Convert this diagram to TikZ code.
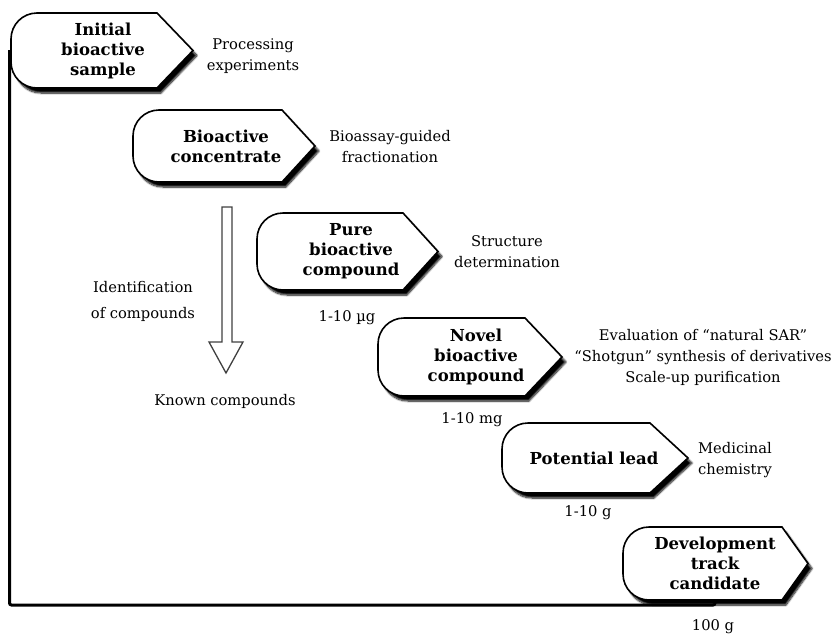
\documentclass[tikz,border=0pt]{standalone}
\usepackage{fontspec}
\setmainfont{DejaVu Serif}
\usetikzlibrary{shadows.blur}
\tikzset{
  stepline/.style={draw=black, line width=1.6pt, fill=white,
    blur shadow={shadow xshift=4pt, shadow yshift=-5pt, shadow blur radius=1.8pt, shadow blur steps=8, shadow opacity=100}},
  steptext/.style={font=\fontsize{16.5}{20}\selectfont\bfseries, align=center, inner sep=0pt},
  lbl/.style={font=\fontsize{14.7}{21}\selectfont, align=center, inner sep=0pt},
  lline/.style={line width=3pt, rounded corners=2pt},
  hollow/.style={draw=black!75, line width=1.3pt, fill=white, line join=miter},
}
% #1 name, #2 left, #3 top, #4 tip x, #5 bottom, #6 indent, #7 text x, #8 text
\newcommand\stepbox[8]{%
  \draw[stepline] (#4-#6,-#3) -- (#2+26,-#3)
    arc[start angle=90,end angle=180,radius=26pt] -- (#2,-#5+26)
    arc[start angle=180,end angle=270,radius=26pt] -- (#4-#6,-#5)
    -- (#4,{-(#3+#5)/2}) -- cycle;
  \node[steptext] (#1) at (#7,{-(#3+#5)/2}) {#8};
  \coordinate (#1-w) at (#2,{-(#3+#5)/2});
  \coordinate (#1-s) at ({(#2+#4)/2},-#5);
}
\begin{document}
\begin{tikzpicture}[x=1pt,y=1pt]
\useasboundingbox (0,0) rectangle (836,-635);
\coordinate (lstart) at (9.5,-50);
\coordinate (lturn) at (9.5,-605);
\coordinate (lend) at (715,-605);
\draw[lline] (lstart) -- (lturn) -- (lend) -- ++(0,6);
\stepbox{b1}{11}{13}{193}{88}{36}{103}{Initial\\bioactive\\sample}
\stepbox{b2}{133}{110}{315}{182}{33}{226}{Bioactive\\concentrate}
\stepbox{b3}{257}{213}{438}{290}{35}{351}{Pure\\bioactive\\compound}
\stepbox{b4}{378}{318}{562}{396}{37}{476}{Novel\\bioactive\\compound}
\stepbox{b5}{502}{423}{688}{493}{38}{594}{Potential lead}
\stepbox{b6}{623}{527}{808}{600}{26}{715}{Development\\track\\candidate}
\node[lbl] (l1) at (253,-56) {Processing\\experiments};
\node[lbl] (l2) at (390,-147) {Bioassay-guided\\fractionation};
\node[lbl] (l3) at (507,-252) {Structure\\determination};
\node[lbl] (l4) at (703,-357) {Evaluation of “natural SAR”\\“Shotgun” synthesis of derivatives\\Scale-up purification};
\node[lbl] (l5) at (735,-460) {Medicinal\\chemistry};
\node[lbl] (m1) at (347,-318) {1-10 µg};
\node[lbl] (m2) at (472,-420) {1-10 mg};
\node[lbl] (m3) at (588,-513) {1-10 g};
\node[lbl] (m4) at (713,-627) {100 g};
\node[lbl, font=\fontsize{14.7}{26}\selectfont] (idc) at (143,-301) {Identification\\of compounds};
\node[lbl] (kc) at (225,-401) {Known compounds};
% hollow arrow
\draw[hollow] (222,-207) -- (232,-207) -- (232,-342) -- (243,-342) -- (226,-373)
  -- (209,-342) -- (222,-342) -- cycle;
\end{tikzpicture}
\end{document}
